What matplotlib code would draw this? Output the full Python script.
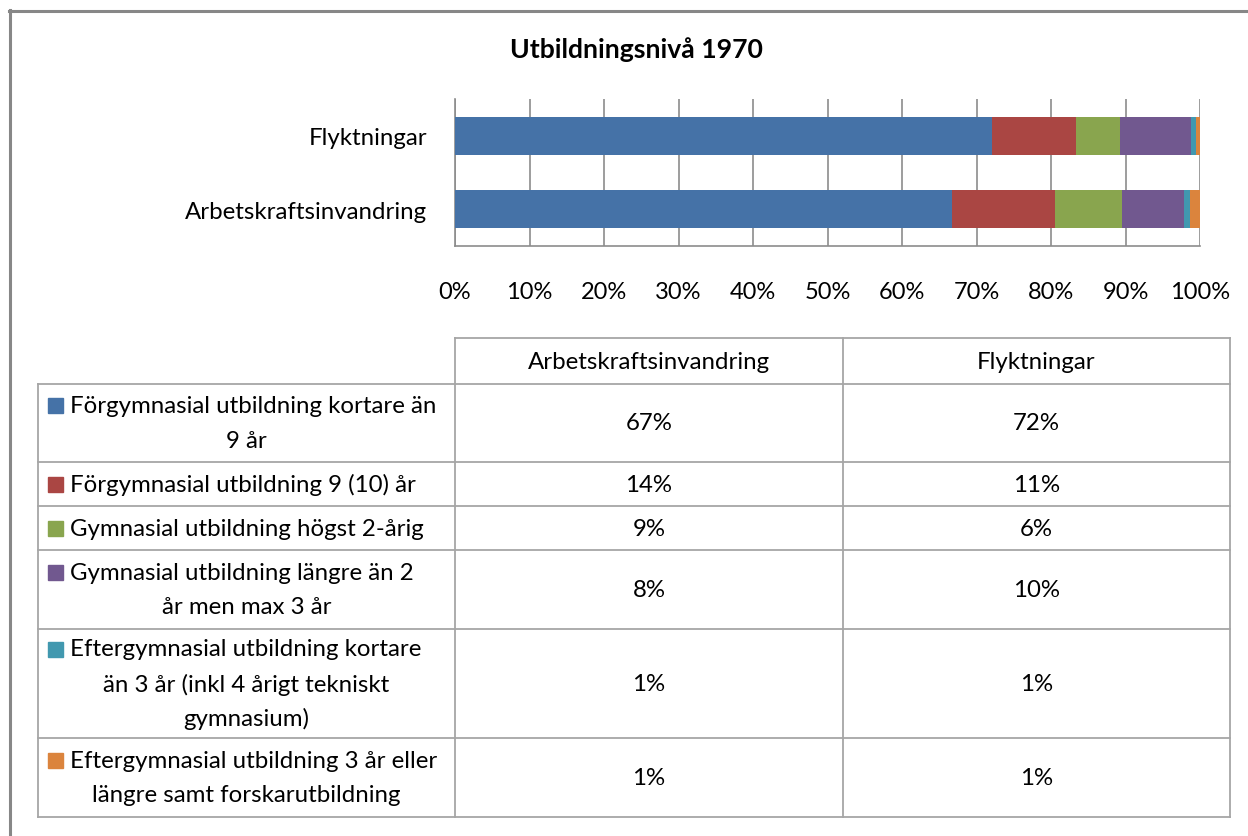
import matplotlib
matplotlib.use("Agg")
import matplotlib.pyplot as plt
from matplotlib.patches import Rectangle
from matplotlib.lines import Line2D

plt.rcParams['font.family'] = ['Lato', 'DejaVu Sans']

# ---- data ----
title = "Utbildningsnivå 1970"
groups = ["Arbetskraftsinvandring", "Flyktningar"]
levels = [
    "Förgymnasial utbildning kortare än 9 år",
    "Förgymnasial utbildning 9 (10) år",
    "Gymnasial utbildning högst 2-årig",
    "Gymnasial utbildning längre än 2 år men max 3 år",
    "Eftergymnasial utbildning kortare än 3 år (inkl 4 årigt tekniskt gymnasium)",
    "Eftergymnasial utbildning 3 år eller längre samt forskarutbildning",
]
level_lines = [
    ["Förgymnasial utbildning kortare än", "9 år"],
    ["Förgymnasial utbildning 9 (10) år"],
    ["Gymnasial utbildning högst 2-årig"],
    ["Gymnasial utbildning längre än 2", "år men max 3 år"],
    ["Eftergymnasial utbildning kortare", "än 3 år (inkl 4 årigt tekniskt", "gymnasium)"],
    ["Eftergymnasial utbildning 3 år eller", "längre samt forskarutbildning"],
]
arbetskraft = [66.7, 13.8, 8.9, 8.4, 0.7, 1.4]
flyktingar = [72.2, 11.3, 5.8, 9.6, 0.6, 0.6]
colors = ["#4572A7", "#AA4643", "#89A54E", "#71588F", "#4198AF", "#DB843D"]
xticks = [0, 10, 20, 30, 40, 50, 60, 70, 80, 90, 100]

series = [arbetskraft, flyktingar]

W, H = 1248, 837
FS = 17.3
fig = plt.figure(figsize=(W / 100, H / 100), dpi=100)

# overlay in pixel coordinates
ov = fig.add_axes([0, 0, 1, 1])
ov.set_xlim(0, W)
ov.set_ylim(H, 0)
ov.axis('off')
ov.patch.set_visible(False)

# outer chart border
ov.add_line(Line2D([9.5, 9.5], [11, H + 5], color="#878787", lw=2.2))
ov.add_line(Line2D([9, W + 5], [11.5, 11.5], color="#878787", lw=2.2))

# title
ov.text(636, 50, title, ha='center', va='center', fontsize=19.2, fontweight='bold')

# ---- bar chart ----
L, R, T, B = 455, 1200, 100, 247
ax = fig.add_axes([L / W, 1 - B / H, (R - L) / W, (B - T) / H])
ypos = list(range(len(groups)))
totals = [sum(s) for s in series]
left = [0.0] * len(groups)
for i in range(len(levels)):
    vals = [series[g][i] / totals[g] * 100 for g in range(len(groups))]
    ax.barh(ypos, vals, left=left, height=0.52, color=colors[i], edgecolor='none', zorder=3)
    left = [a + b for a, b in zip(left, vals)]
ax.set_xlim(0, 100)
ax.set_ylim(-0.5, len(groups) - 0.5)
ax.set_xticks(xticks)
ax.set_xticklabels([f"{t}%" for t in xticks], fontsize=17)
ax.set_yticks(ypos)
ax.set_yticklabels(groups, fontsize=FS)
ax.tick_params(axis='both', length=0)
ax.tick_params(axis='x', pad=25)
ax.tick_params(axis='y', pad=20)
ax.grid(axis='x', color="#8c8c8c", lw=1.2, zorder=0)
for s in ['top', 'right']:
    ax.spines[s].set_visible(False)
for s in ['left', 'bottom']:
    ax.spines[s].set_color("#8c8c8c")
    ax.spines[s].set_linewidth(1.2)

# ---- data table ----
lc = "#a6a6a6"
lw = 1.3
cx = [38, 455, 843, 1230]
ry = [339, 385, 463, 507, 551, 630, 739, 818]
# header row (only value columns)
ov.add_line(Line2D([cx[1], cx[3]], [ry[0], ry[0]], color=lc, lw=lw))
for x in cx[1:]:
    ov.add_line(Line2D([x, x], [ry[0], ry[-1]], color=lc, lw=lw))
ov.add_line(Line2D([cx[0], cx[0]], [ry[1], ry[-1]], color=lc, lw=lw))
for y in ry[1:]:
    ov.add_line(Line2D([cx[0], cx[3]], [y, y], color=lc, lw=lw))

col_centers = [(cx[1] + cx[2]) / 2, (cx[2] + cx[3]) / 2]
for j, g in enumerate(groups):
    ov.text(col_centers[j], (ry[0] + ry[1]) / 2, g, ha='center', va='center', fontsize=FS)

leg_center = (cx[0] + cx[1]) / 2
line_h = 34.5
for i, lines in enumerate(level_lines):
    top, bot = ry[i + 1], ry[i + 2]
    mid = (top + bot) / 2
    n = len(lines)
    y0 = mid - (n - 1) * line_h / 2
    for k, txt in enumerate(lines):
        y = y0 + k * line_h
        if k == 0:
            ov.add_patch(Rectangle((48, y - 7.5), 15, 15, color=colors[i]))
            ov.text(70, y, txt, ha='left', va='center', fontsize=FS)
        else:
            ov.text(leg_center, y, txt, ha='center', va='center', fontsize=FS)
    for j in range(len(groups)):
        v = series[j][i]
        ov.text(col_centers[j], mid, f"{int(v + 0.5)}%", ha='center', va='center', fontsize=FS)

fig.savefig("out.png", dpi=100)
